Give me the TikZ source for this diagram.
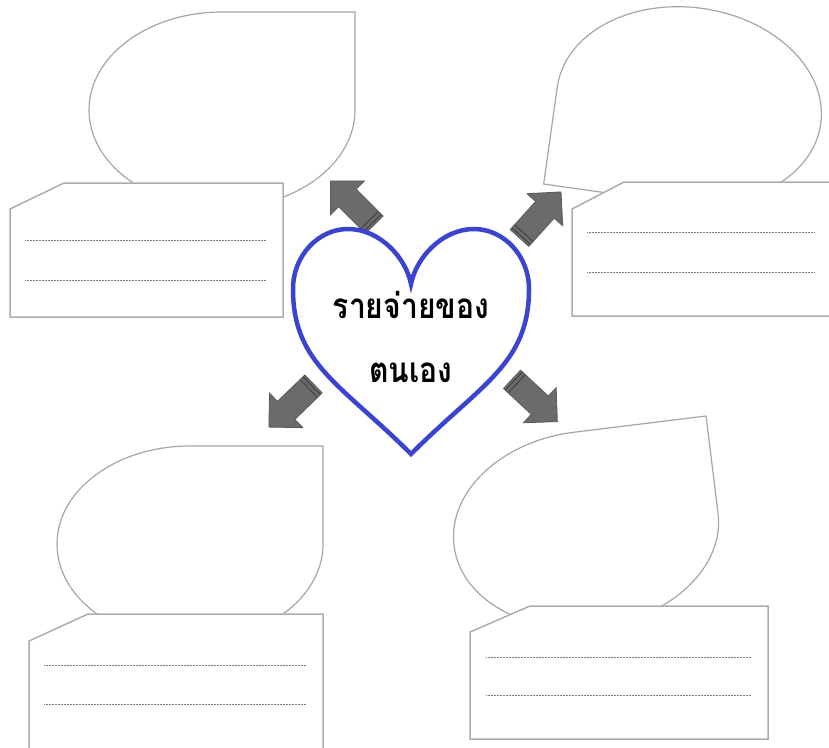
\documentclass[tikz,border=0pt]{standalone}
\usepackage{fontspec}
\newfontfamily\thaifont[Script=Thai]{Loma}
\definecolor{shapegray}{HTML}{A6A6A6}
\definecolor{boxgray}{HTML}{ADADAD}
\definecolor{arrowfill}{HTML}{6B6B6B}
\definecolor{arrowline}{HTML}{5A5A5A}
\definecolor{stripecol}{HTML}{3F3F3F}
\definecolor{heartblue}{HTML}{3B44D1}
\definecolor{dotgray}{HTML}{7A7A7A}
\tikzset{
  teardrop/.style={draw=shapegray, line width=1.2pt, fill=white},
  cardbox/.style={draw=boxgray, line width=1.5pt, fill=white, line join=miter},
  writeline/.style={draw=dotgray, line width=0.6pt, dash pattern=on 0.6pt off 0.9pt},
  blockarrow/.style={fill=arrowfill, draw=arrowline, line width=0.8pt, line join=miter},
  stripeline/.style={draw=stripecol, line width=0.9pt},
  heartline/.style={draw=heartblue, line width=4.5pt, fill=white, line join=miter},
  titletext/.style={font=\thaifont\bfseries\fontsize{35}{40}\selectfont, text=black, inner sep=0pt, anchor=base}
}
\begin{document}
\begin{tikzpicture}[x=1pt, y=-1pt]
\useasboundingbox (0,0) rectangle (829,747);
\fill[white] (0,0) rectangle (829,747);
\clip (0,0) rectangle (829,747);

% teardrops
\begin{scope}[shift={(222,110)}]
  \draw[teardrop] (0,-98) -- (133,-98) -- (133,0) arc[start angle=0, end angle=-270, x radius=133pt, y radius=98pt] -- cycle;
\end{scope}
\begin{scope}[shift={(190,544)}]
  \draw[teardrop] (0,-98) -- (133,-98) -- (133,0) arc[start angle=0, end angle=-270, x radius=133pt, y radius=98pt] -- cycle;
\end{scope}
\begin{scope}[shift={(689,105.5)}, rotate=-8]
  \draw[teardrop] (0,98) -- (-133,98) -- (-133,0) arc[start angle=180, end angle=-90, x radius=133pt, y radius=98pt] -- cycle;
\end{scope}
\begin{scope}[shift={(586,529.5)}, rotate=7]
  \draw[teardrop] (0,-98) -- (133,-98) -- (133,0) arc[start angle=0, end angle=-270, x radius=133pt, y radius=98pt] -- cycle;
\end{scope}

% boxes
\draw[cardbox] (10,209) -- (64,183) -- (283,183) -- (283,317) -- (10,317) -- cycle;
\draw[cardbox] (572,209) -- (624,182) -- (840,182) -- (840,316) -- (572,316) -- cycle;
\draw[cardbox] (29,641) -- (88,614) -- (323,614) -- (323,760) -- (29,760) -- cycle;
\draw[cardbox] (470,632) -- (530,606) -- (768,606) -- (768,739) -- (470,739) -- cycle;

% writing lines
\draw[writeline] (25,240) -- (266,240);
\draw[writeline] (25,280) -- (266,280);
\draw[writeline] (587,232) -- (814,232);
\draw[writeline] (587,272) -- (814,272);
\draw[writeline] (44,665) -- (306,665);
\draw[writeline] (44,704) -- (306,704);
\draw[writeline] (486,657) -- (751,657);
\draw[writeline] (486,695) -- (751,695);

% arrows
\foreach \px/\py/\ang in {374.25/224.75/135, 519.5/238/48, 313.5/384/224, 512/379.3/-43}{
  \begin{scope}[shift={(\px,\py)}, rotate=\ang]
    \draw[blockarrow] (0,-12.5) -- (38,-12.5) -- (38,-24) -- (62,0) -- (38,24) -- (38,12.5) -- (0,12.5) -- cycle;
    \draw[stripeline] (2.5,-12.2) -- (2.5,12.2);
    \draw[stripeline] (6.5,-12.2) -- (6.5,12.2);
  \end{scope}
}

% heart
\draw[heartline] (411,454) .. controls (341,384) and (293,364) .. (293,289)
  .. controls (293,256) and (318,229) .. (348,229)
  .. controls (380,229) and (406,258) .. (411,284)
  .. controls (416,258) and (442,229) .. (474,229)
  .. controls (504,229) and (529,256) .. (529,289)
  .. controls (529,364) and (481,384) .. (411,454) -- cycle;

\node[titletext] (line1) at (411,318) {\scalebox{0.86}[1]{รายจ่ายของ}};
\node[titletext] (line2) at (411,382) {\scalebox{0.86}[1]{ตนเอง}};
\end{tikzpicture}
\end{document}
